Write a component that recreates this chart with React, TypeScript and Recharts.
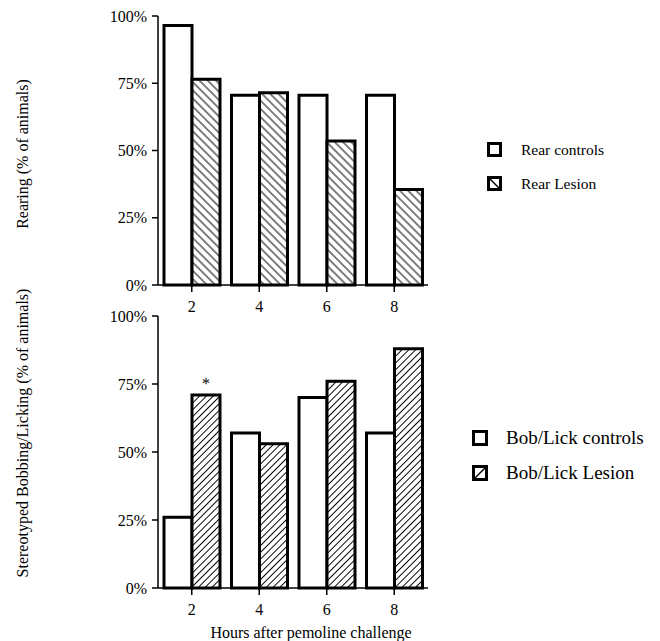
import { BarChart, Bar, XAxis, YAxis, Legend, LabelList, Label } from 'recharts';

const hours = ['2', '4', '6', '8'];
const rearControls = [96.5, 70.5, 70.5, 70.5];
const rearLesion = [76.5, 71.5, 53.5, 35.5];
const bobLickControls = [26, 57, 70, 57];
const bobLickLesion = [71, 53, 76, 88];
const bobLickMarks = ['*', '', '', ''];
const percentTicks = [0, 25, 50, 75, 100];

const rearData = hours.map((h, i) => ({ hour: h, controls: rearControls[i], lesion: rearLesion[i] }));
const bobData = hours.map((h, i) => ({
    hour: h,
    controls: bobLickControls[i],
    lesion: bobLickLesion[i],
    mark: bobLickMarks[i],
}));

const FONT = 'Liberation Serif, serif';

const YTick = ({ x, y, payload }) => (
    <text x={x} y={y} textAnchor="end" dominantBaseline="central" style={{ fontFamily: FONT, fontSize: 16 }} fill="#000">
        {`${payload.value}%`}
    </text>
);

const XTick = ({ x, y, payload }) => (
    <text x={x} y={y} dy="0.71em" textAnchor="middle" style={{ fontFamily: FONT, fontSize: 16 }} fill="#000">
        {payload.value}
    </text>
);

const VerticalTitle = ({ viewBox, value, shift }) => {
    const cy = viewBox.y + viewBox.height / 2 + shift;
    return (
        <text transform={`translate(22,${cy}) rotate(-90)`} textAnchor="middle" dominantBaseline="central"
            style={{ fontFamily: FONT, fontSize: 16 }} fill="#000">
            {value}
        </text>
    );
};

const BottomTitle = ({ viewBox, value }) => (
    <text x={viewBox.x + viewBox.width / 2 + 18} y={viewBox.y + viewBox.height - 3} textAnchor="middle"
        style={{ fontFamily: FONT, fontSize: 16 }} fill="#000">
        {value}
    </text>
);

const Star = ({ x, y, width, value }) =>
    value ? (
        <text x={x + width / 2} y={y - 6} textAnchor="middle" style={{ fontFamily: FONT, fontSize: 16 }} fill="#000">
            {value}
        </text>
    ) : null;

const LegendBox = ({ items, size, row, fontSize, textGap }) => (
    <div style={{ fontFamily: FONT, fontSize, color: '#000' }}>
        {items.map((it) => (
            <div key={it.label} style={{ display: 'flex', alignItems: 'center', height: row }}>
                <svg width={size} height={size} style={{ marginRight: textGap, flexShrink: 0 }}>
                    <rect x={1.5} y={1.5} width={size - 3} height={size - 3} fill="#fff" stroke="#000" strokeWidth={3} />
                    {it.hatch === 'back' && <line x1={3} y1={3} x2={size - 3} y2={size - 3} stroke="#000" strokeWidth={1.5} />}
                    {it.hatch === 'fwd' && <line x1={3} y1={size - 3} x2={size - 3} y2={3} stroke="#000" strokeWidth={1.5} />}
                </svg>
                <span style={{ whiteSpace: 'nowrap', fontFamily: FONT }}>{it.label}</span>
            </div>
        ))}
    </div>
);

const HatchDefs = () => (
    <defs>
        <pattern id="rearHatch" patternUnits="userSpaceOnUse" width={5.8} height={5.8} patternTransform="rotate(-45)">
            <rect width={5.8} height={5.8} fill="#fff" />
            <line x1={2.9} y1={0} x2={2.9} y2={5.8} stroke="#000" strokeWidth={1} />
        </pattern>
        <pattern id="bobHatch" patternUnits="userSpaceOnUse" width={4.8} height={4.8} patternTransform="rotate(45)">
            <rect width={4.8} height={4.8} fill="#fff" />
            <line x1={2.4} y1={0} x2={2.4} y2={4.8} stroke="#000" strokeWidth={1} />
        </pattern>
    </defs>
);

const axisStroke = { stroke: '#000', strokeWidth: 1.5 };

const App = () => {
    return (
        <div style={{ position: 'absolute', left: 0, top: 0, width: 660, height: 641, background: '#fff' }}>
            <div style={{ position: 'absolute', left: 0, top: 0 }}>
                <BarChart width={660} height={320} data={rearData} margin={{ top: 16, right: 232, left: 0, bottom: 0 }}
                    barCategoryGap={6} barGap={0}>
                    <HatchDefs />
                    <XAxis dataKey="hour" height={35} tickSize={7} tickMargin={9} tick={<XTick />}
                        axisLine={axisStroke} tickLine={axisStroke} />
                    <YAxis width={158} domain={[0, 100]} ticks={percentTicks}
                        tickSize={6} tickMargin={5} tick={<YTick />} axisLine={axisStroke} tickLine={axisStroke}>
                        <Label value="Rearing (% of animals)" content={(p) => <VerticalTitle {...p} value="Rearing (% of animals)" shift={3.5} />} />
                    </YAxis>
                    <Legend layout="horizontal" align="center" verticalAlign="middle"
                        wrapperStyle={{ left: 487, top: 132.5, width: 170 }}
                        content={() => (
                            <LegendBox size={15} row={34} fontSize={15.5} textGap={19}
                                items={[{ label: 'Rear controls', hatch: 'none' }, { label: 'Rear Lesion', hatch: 'back' }]} />
                        )} />
                    <Bar dataKey="controls" name="Rear controls" fill="#fff" stroke="#000" strokeWidth={3} isAnimationActive={false} />
                    <Bar dataKey="lesion" name="Rear Lesion" fill="url(#rearHatch)" stroke="#000" strokeWidth={3} isAnimationActive={false} />
                </BarChart>
            </div>
            <div style={{ position: 'absolute', left: 0, top: 280 }}>
                <BarChart width={660} height={361} data={bobData} margin={{ top: 36, right: 232, left: 0, bottom: 0 }}
                    barCategoryGap={6} barGap={0}>
                    <XAxis dataKey="hour" height={53} tickSize={7} tickMargin={9} tick={<XTick />}
                        axisLine={axisStroke} tickLine={axisStroke}>
                        <Label value="Hours after pemoline challenge" content={(p) => <BottomTitle {...p} value="Hours after pemoline challenge" />} />
                    </XAxis>
                    <YAxis width={158} domain={[0, 100]} ticks={percentTicks}
                        tickSize={6} tickMargin={5} tick={<YTick />} axisLine={axisStroke} tickLine={axisStroke}>
                        <Label value="Stereotyped Bobbing/Licking (% of animals)"
                            content={(p) => <VerticalTitle {...p} value="Stereotyped Bobbing/Licking (% of animals)" shift={-19} />} />
                    </YAxis>
                    <Legend layout="horizontal" align="center" verticalAlign="middle"
                        wrapperStyle={{ left: 472, top: 140.5, width: 188 }}
                        content={() => (
                            <LegendBox size={16} row={35} fontSize={19} textGap={18}
                                items={[{ label: 'Bob/Lick controls', hatch: 'none' }, { label: 'Bob/Lick Lesion', hatch: 'fwd' }]} />
                        )} />
                    <Bar dataKey="controls" name="Bob/Lick controls" fill="#fff" stroke="#000" strokeWidth={3} isAnimationActive={false} />
                    <Bar dataKey="lesion" name="Bob/Lick Lesion" fill="url(#bobHatch)" stroke="#000" strokeWidth={3} isAnimationActive={false}>
                        <LabelList dataKey="mark" content={<Star />} />
                    </Bar>
                </BarChart>
            </div>
        </div>
    );
};

export default App;
